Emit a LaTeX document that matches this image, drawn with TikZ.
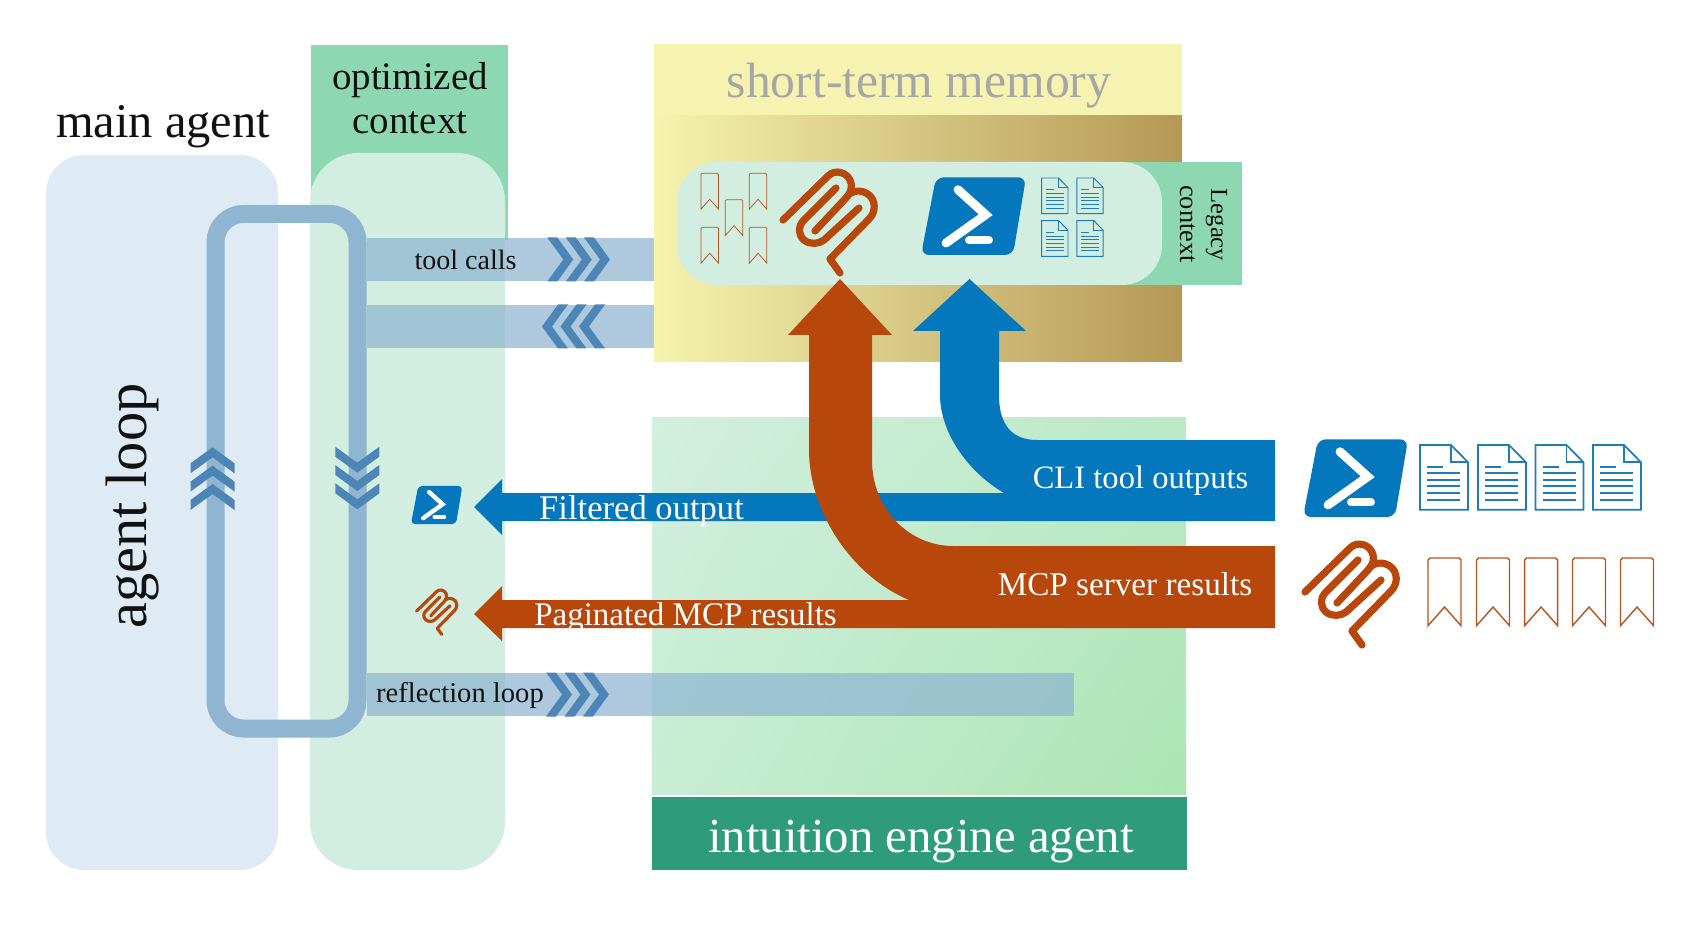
\documentclass[tikz,border=0pt]{standalone}
\usepackage{fontspec}
\usetikzlibrary{shadings}
\setmainfont{Liberation Serif}
\definecolor{panelblue}{HTML}{DEEBF5}
\definecolor{panelgreen}{HTML}{D2EEE0}
\definecolor{headgreen}{HTML}{8DD7B2}
\definecolor{memyellow}{HTML}{F5F3AF}
\definecolor{membrown}{HTML}{B59855}
\definecolor{memmid}{HTML}{E1D08E}
\definecolor{agentgreen}{HTML}{2E9C7B}
\definecolor{bandblue}{HTML}{8FB5D2}
\definecolor{loopblue}{HTML}{8FB5D0}
\definecolor{chevblue}{HTML}{4D86B6}
\definecolor{psblue}{HTML}{0477BD}
\definecolor{docblue}{HTML}{1E7CBA}
\definecolor{mcporange}{HTML}{B7470B}
\definecolor{markorange}{HTML}{B9541E}
\definecolor{titlegray}{HTML}{A6A6A6}
\definecolor{inkblack}{HTML}{111111}
\definecolor{intul}{HTML}{D2EFE0}
\definecolor{intur}{HTML}{BCE9C6}
\definecolor{intll}{HTML}{C8EDD3}
\definecolor{intlr}{HTML}{ABE5B2}
\tikzset{
  txt/.style={inner sep=0pt,outer sep=0pt,anchor=base,text=inkblack},
  whitetxt/.style={txt,text=white},
  band/.style={fill=bandblue,fill opacity=.72},
  chevmark/.style={fill=chevblue},
}
\newcommand\mychev[3]{\begin{scope}[shift={(#1,#2)},rotate=#3]
  \fill[chevmark] (0,0) -- (-16,22) -- (-26,22) -- (-10,0) -- (-26,-22) -- (-16,-22) -- cycle;
\end{scope}}
\newcommand\psicon[3]{\begin{scope}[shift={(#1,#2)},scale=#3]
  \fill[psblue,rounded corners=#3*4pt] (23,9.3) -- (113,9.3) -- (100,87) -- (8,87) -- cycle;
  \draw[white,line width=#3*4.4pt,line cap=round,line join=miter] (45,21.7) -- (72.7,46.7) -- (33,75);
  \draw[white,line width=#3*4pt,line cap=round] (56,72.3) -- (76,72.3);
\end{scope}}
\newcommand\mcpicon[3]{\begin{scope}[shift={(#1,#2)},scale=#3]
  \begin{scope}[mcporange,line width=#3*3.6pt,line cap=round,line join=round]
  \draw (15,57) -- (60,13) .. controls (67,6) and (78,9) .. (82,17) .. controls (85,24) and (83,30) .. (78,35) -- (47,68);
  \draw (80,32) .. controls (87,26) and (97,27) .. (103,34) .. controls (108,41) and (107,50) .. (101,56) -- (62,96) -- (72,110);
  \draw (68,25) -- (35,58) .. controls (30,63) and (30,72) .. (36,77) .. controls (42,82) and (51,81) .. (56,77) -- (91,45);
  \end{scope}
\end{scope}}
\newcommand\docicon[3]{\begin{scope}[shift={(#1,#2)},scale=#3]
  \begin{scope}[docblue,line width=#3*.85pt]
  \draw[line join=miter] (0,0) -- (31,0) -- (48,17.3) -- (48,64.7) -- (0,64.7) -- cycle;
  \draw (31,0) -- (31,17.3) -- (48,17.3);
  \draw (7.3,21.7) -- (23,21.7);
  \foreach \yy in {28.3,35,41.3,48,54.7} \draw (7.3,\yy) -- (40,\yy);
  \end{scope}
\end{scope}}
\newcommand\bmark[3]{\begin{scope}[shift={(#1,#2)},scale=#3]
  \draw[markorange,line width=#3*.7pt,line join=miter] (0,67.7) -- (0,2) -- (2,0) -- (31,0) -- (33,2) -- (33,67.7) -- (16.5,49) -- cycle;
\end{scope}}
\begin{document}
\begin{tikzpicture}[x=.5pt,y=-.5pt]
\useasboundingbox (0,0) rectangle (1696,946);
\fill[white] (0,0) rectangle (1696,946);

% left panels
\fill[headgreen] (311,45) rectangle (508,240);
\fill[panelblue,rounded corners=19pt] (46,155) rectangle (278,870);
\fill[panelgreen,rounded corners=24pt] (310,153) rectangle (505,870);

% short-term memory
\fill[memyellow] (654,44) rectangle (1182,116);
\fill[left color=memyellow,middle color=memmid,right color=membrown] (654,116) rectangle (1182,362);
\fill[headgreen] (1110,162) rectangle (1242,285);
\fill[panelgreen,rounded corners=20pt] (677,162) rectangle (1162,285);

% intuition engine
\fill[upper left=intul,upper right=intur,lower left=intll,lower right=intlr] (652,417) rectangle (1186,794);
\fill[agentgreen] (652,797) rectangle (1187,870);

% bands
\fill[band] (367,238) rectangle (654,281);
\fill[band] (367,305) rectangle (654,348);
\fill[band] (367,673) rectangle (1074,716);
\foreach \tipx in {573.3,591.8,610} {\mychev{\tipx}{259.5}{0}}
\foreach \tipx in {542,560.5,579} {\mychev{\tipx}{326.5}{180}}
\foreach \tipx in {572,590.5,609} {\mychev{\tipx}{694.5}{0}}

% agent loop ring
\draw[loopblue,line width=9pt,rounded corners=14pt] (215.5,214) rectangle (357.5,728.5);
\foreach \tipy in {447.3,465.6,484} {\mychev{212.5}{\tipy}{90}}
\foreach \tipy in {472.7,491,509.3} {\mychev{357.3}{\tipy}{-90}}

% blue arrows
\fill[psblue] (1275,493) -- (502,493) -- (502,479) -- (474,507) -- (502,535) -- (502,521) -- (1275,521) -- cycle;
\fill[psblue] (1275,440) -- (1037,440) .. controls (1012,440) and (999,425) .. (999,395) -- (999,331) -- (1026,331) -- (969.5,279) -- (913,331) -- (940,331) -- (940,395) .. controls (940,430) and (965,470) .. (1004,493) -- (1275,493) -- cycle;
% orange arrow
\fill[mcporange] (1275,546) -- (953,546) .. controls (910,546) and (872,510) .. (872,460) -- (872,335) -- (892,335) -- (840,279) -- (788,335) -- (809,335) -- (809,450) .. controls (809,510) and (850,575) .. (909,600) -- (502,600) -- (502,586) -- (474,614) -- (502,641) -- (502,628) -- (1275,628) -- cycle;

% icons
\psicon{913}{168}{1}
\psicon{1295}{430}{1}
\psicon{407}{481.4}{.49}
\mcpicon{768}{163}{1}
\mcpicon{1290}{535}{1}
\mcpicon{410}{586}{.44}
\foreach \dx in {1041.6,1076.8} {\foreach \dy in {178,220.7} {\docicon{\dx}{\dy}{.55}}}
\foreach \dx in {1420,1478,1535.5,1593} {\docicon{\dx}{445}{1}}
\bmark{701}{173.3}{.53}
\bmark{749.3}{173.3}{.53}
\bmark{725.3}{199.7}{.53}
\bmark{701}{227.3}{.53}
\bmark{749.3}{227.3}{.53}
\foreach \mx in {1428,1476.5,1524.6,1572.5,1620.5} {\bmark{\mx}{558}{1}}

% text
\node[txt,font=\fontsize{24.2}{28}\selectfont] (mainagent) at (163,138) {main agent};
\node[txt,font=\fontsize{19.5}{23}\selectfont] (optimized) at (410,90) {optimized};
\node[txt,font=\fontsize{19.5}{23}\selectfont] (context) at (410,134) {context};
\node[txt,text=titlegray,font=\fontsize{24.8}{28}\selectfont] (stm) at (919,98) {short-term memory};
\node[txt,rotate=90,font=\fontsize{29.2}{32}\selectfont] (agentloop) at (146,506) {agent loop};
\node[txt,font=\fontsize{14}{17}\selectfont] (toolcalls) at (465.5,270) {tool calls};
\node[txt,font=\fontsize{14.3}{17}\selectfont] (reflection) at (460,702.5) {reflection loop};
\node[txt,rotate=-90,font=\fontsize{12.3}{15}\selectfont] (legacy) at (1211,225) {Legacy};
\node[txt,rotate=-90,font=\fontsize{13.2}{15}\selectfont] (legcontext) at (1180,224) {context};
\node[whitetxt,font=\fontsize{17.3}{20}\selectfont] (filtered) at (641.5,519) {Filtered output};
\node[whitetxt,font=\fontsize{16.5}{20}\selectfont] (paginated) at (685.5,625.5) {Paginated MCP results};
\node[whitetxt,font=\fontsize{16.3}{20}\selectfont] (cli) at (1140.5,488) {CLI tool outputs};
\node[whitetxt,font=\fontsize{16.6}{20}\selectfont] (mcp) at (1125,595) {MCP server results};
\node[whitetxt,font=\fontsize{24.4}{28}\selectfont] (intuition) at (921,852) {intuition engine agent};
\end{tikzpicture}
\end{document}
